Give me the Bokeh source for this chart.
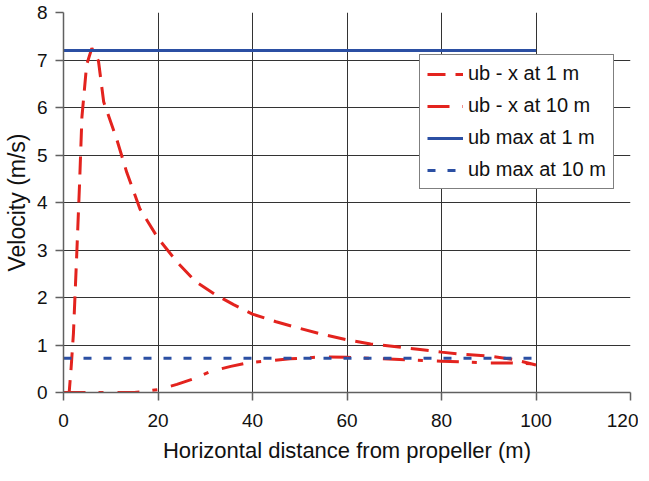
from bokeh.plotting import figure
from bokeh.models import Range1d, FixedTicker, Legend, LegendItem
from bokeh.embed import file_html
from bokeh.resources import INLINE

# ---- data ----
x_ub1 = [0, 1.2, 1.6, 2.1, 2.8, 3.4, 3.9, 4.9, 6.0, 7.4, 8.5, 11.3, 13.4, 16.2, 20, 24, 28, 32, 36, 40,
         45, 50, 55, 60, 65, 70, 75, 80, 85, 90, 95, 100]
y_ub1 = [0, 0, 0.5, 1.24, 2.9, 4.4, 5.8, 6.9, 7.25, 6.98, 6.12, 5.32, 4.63, 3.86, 3.25, 2.75, 2.33, 2.07, 1.85, 1.65,
         1.49, 1.35, 1.22, 1.11, 1.02, 0.97, 0.91, 0.85, 0.80, 0.77, 0.70, 0.58]

x_ub10 = [0, 5, 10, 15, 20, 24, 27.6, 31.1, 35.4, 39.3, 42.8, 48, 55, 60, 65, 70, 75, 80, 85, 90, 95, 100]
y_ub10 = [0, 0, 0, 0, 0.06, 0.17, 0.29, 0.44, 0.55, 0.63, 0.66, 0.71, 0.75, 0.74, 0.72, 0.70, 0.68, 0.66, 0.64,
          0.62, 0.62, 0.60]

x_max = [0, 100]
y_max1 = [7.2, 7.2]
y_max10 = [0.72, 0.72]

x_ticks = [0, 20, 40, 60, 80, 100, 120]
y_ticks = [0, 1, 2, 3, 4, 5, 6, 7, 8]
labels = ["ub - x at 1 m", "ub - x at 10 m", "ub max at 1 m", "ub max at 10 m"]

RED = "#E3231E"
BLUE = "#2B4FA3"
FONT = "Liberation Sans"

p = figure(frame_width=567, frame_height=380, output_backend="svg", toolbar_location=None,
           x_range=Range1d(0, 120), y_range=Range1d(0, 8),
           min_border_left=58, min_border_right=8, min_border_top=12, min_border_bottom=73)
p.outline_line_color = None
p.background_fill_color = "white"
p.border_fill_color = "white"

r1 = p.line(x_ub1, y_ub1, line_color=RED, line_width=3, line_dash="18 10")
r2 = p.line(x_ub10, y_ub10, line_color=RED, line_width=3, line_dash="22 13 5 14")
r3 = p.line(x_max, y_max1, line_color=BLUE, line_width=3)
r4 = p.line(x_max, y_max10, line_color=BLUE, line_width=3, line_dash="8 12")

for ax in (p.xaxis[0], p.yaxis[0]):
    ax.major_tick_out = 8
    ax.major_tick_in = 0
    ax.minor_tick_line_color = None
    ax.axis_line_color = "#606060"
    ax.axis_line_width = 1.5
    ax.major_tick_line_color = "#606060"
    ax.major_tick_line_width = 1.5
    ax.major_label_text_font = FONT
    ax.major_label_text_font_size = "19px"
    ax.major_label_text_color = "#111111"
    ax.axis_label_text_font = FONT
    ax.axis_label_text_font_style = "normal"
    ax.axis_label_text_color = "#111111"

p.xaxis.ticker = FixedTicker(ticks=x_ticks)
p.yaxis.ticker = FixedTicker(ticks=y_ticks)
p.xaxis.axis_label = "Horizontal distance from propeller (m)"
p.yaxis.axis_label = "Velocity (m/s)"
p.xaxis.axis_label_text_font_size = "22px"
p.yaxis.axis_label_text_font_size = "23px"
p.xaxis.major_label_standoff = 13
p.yaxis.major_label_standoff = 8
p.xaxis.axis_label_standoff = 8
p.yaxis.axis_label_standoff = 4

p.xgrid.ticker = FixedTicker(ticks=[20, 40, 60, 80, 100])
p.ygrid.ticker = FixedTicker(ticks=y_ticks[1:])
for g in (p.xgrid[0], p.ygrid[0]):
    g.grid_line_color = "#333333"
    g.grid_line_width = 1

legend = Legend(items=[LegendItem(label=labels[0], renderers=[r1]),
                       LegendItem(label=labels[1], renderers=[r2]),
                       LegendItem(label=labels[2], renderers=[r3]),
                       LegendItem(label=labels[3], renderers=[r4])],
                location=(356, 203))
legend.label_text_font = FONT
legend.label_text_font_size = "20px"
legend.label_text_color = "#111111"
legend.label_height = 20
legend.glyph_height = 20
legend.glyph_width = 36
legend.spacing = 9
legend.padding = 7
legend.margin = 0
legend.label_standoff = 5
legend.border_line_color = "black"
legend.border_line_width = 1
legend.background_fill_color = "white"
legend.background_fill_alpha = 1
p.add_layout(legend, "center")

open("out.html", "w").write(file_html(p, INLINE))
